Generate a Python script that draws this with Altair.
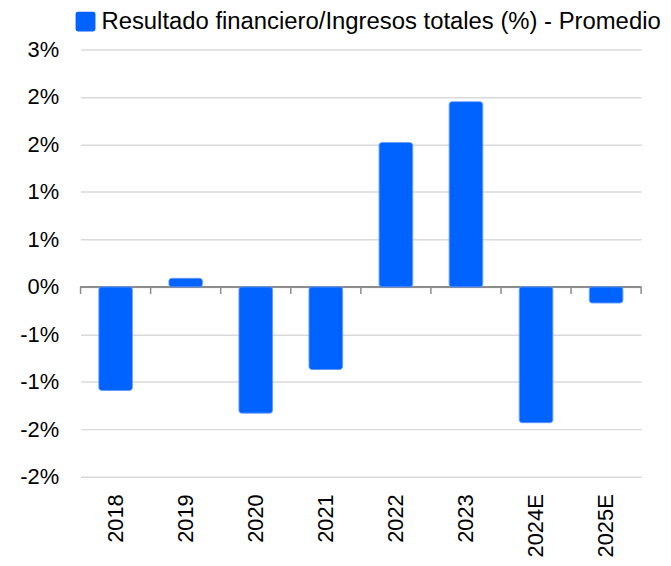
import altair as alt
import pandas as pd

years = ["2018", "2019", "2020", "2021", "2022", "2023", "2024E", "2025E"]
values = [-1.09, 0.09, -1.33, -0.87, 1.52, 1.95, -1.43, -0.17]
series_name = "Resultado financiero/Ingresos totales (%) - Promedio"
y_ticks = [-2.0, -1.5, -1.0, -0.5, 0.0, 0.5, 1.0, 1.5, 2.0, 2.5]
y_domain = [-2.0, 2.5]
tick_depth = -0.075

df = pd.DataFrame({"year": years, "value": values, "serie": [series_name] * len(years)})
last_df = pd.DataFrame({"year": [years[-1]]})

FONT = "Liberation Sans"
BLUE = "#0062FF"

x_axis = alt.Axis(title=None, labelAngle=-90, domain=False, ticks=False, grid=False,
                  labelFontSize=22, labelFont=FONT, labelColor="#000000", labelPadding=17)
y_scale = alt.Scale(domain=y_domain, nice=False, zero=False)
y_axis = alt.Axis(title=None, values=y_ticks, domain=False, ticks=False, grid=True,
                  gridColor="#d9d9d9", gridWidth=1.5,
                  labelExpr="(datum.value < 0 ? '-' : '') + round(abs(datum.value)) + '%'",
                  labelFontSize=22, labelFont=FONT, labelColor="#000000", labelPadding=22)

x_scale = alt.Scale(paddingInner=0, paddingOuter=0)

base = alt.Chart(df)

zero_line = base.mark_rule(color="#8c8c8c", strokeWidth=1.5).encode(
    y=alt.datum(0, scale=y_scale, axis=y_axis, type="quantitative")
)

ticks = base.mark_rule(color="#8c8c8c", strokeWidth=1.5).encode(
    x=alt.X("year:N", sort=years, bandPosition=0, scale=x_scale, axis=x_axis),
    y=alt.datum(0),
    y2=alt.datum(tick_depth),
)

ticks_end = alt.Chart(last_df).mark_rule(color="#8c8c8c", strokeWidth=1.5).encode(
    x=alt.X("year:N", sort=years, bandPosition=1),
    y=alt.datum(0),
    y2=alt.datum(tick_depth),
)

symbol_path = ("M-1,-0.75 Q-1,-1 -0.75,-1 L0.75,-1 Q1,-1 1,-0.75 L1,0.75 Q1,1 0.75,1 "
               "L-0.75,1 Q-1,1 -1,0.75 Z")

bars = base.mark_bar(cornerRadius=3, width=alt.RelativeBandSize(0.48),
                     stroke="#4d8dff", strokeWidth=0.8).encode(
    x=alt.X("year:N", sort=years),
    y=alt.Y("value:Q"),
    color=alt.Color("serie:N", scale=alt.Scale(range=[BLUE]),
                    legend=alt.Legend(title=None, orient="none", legendX=-7, legendY=-40,
                                      symbolType=symbol_path, symbolSize=400,
                                      symbolStrokeWidth=0, labelFontSize=24, labelFont=FONT,
                                      labelColor="#000000", labelLimit=0, labelOffset=4)),
)

chart = alt.layer(zero_line, ticks, ticks_end, bars).properties(
    width=564, height=430,
    padding={"left": 11, "top": 0, "right": 2, "bottom": 5},
).configure_view(stroke=None)

chart.save("out.html", embed_options={"renderer": "svg", "actions": False})
